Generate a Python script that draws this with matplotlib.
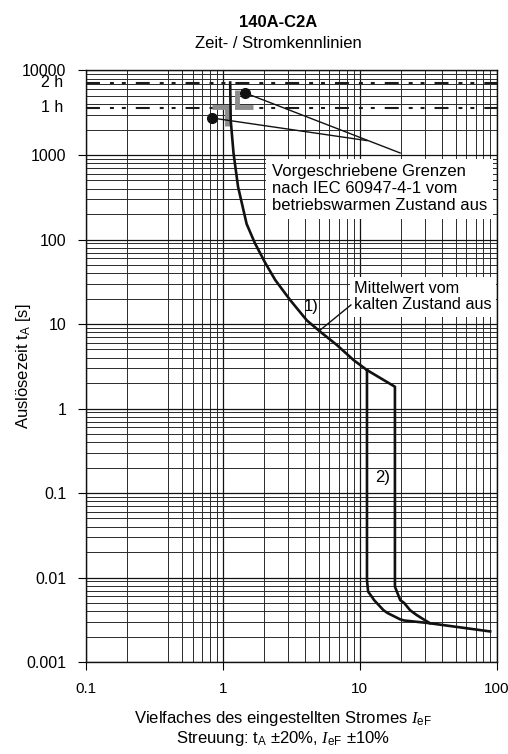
import matplotlib
matplotlib.use('Agg')
import matplotlib.pyplot as plt
from matplotlib.ticker import FixedLocator, NullFormatter

plt.rcParams['font.family'] = ['Liberation Sans', 'DejaVu Sans']
plt.rcParams['font.size'] = 12
plt.rcParams['mathtext.fontset'] = 'custom'
plt.rcParams['mathtext.rm'] = 'Liberation Sans'
plt.rcParams['mathtext.it'] = 'Liberation Serif:italic'

# 1) Mittelwert vom kalten Zustand aus (Vielfaches I_eF, Zeit in s)
cold_x = [1.13, 1.14, 1.195, 1.29, 1.49, 1.71, 2.04, 2.41, 3.10, 4.11, 5.14, 6.80, 8.99, 11.28]
cold_t = [7200, 2590, 1056, 421, 153, 91, 52.7, 33.2, 19.2, 11.0, 8.11, 5.64, 3.75, 2.85]

# 2) Kurzschlussausloesung, untere und obere Grenze
low_x = [11.28, 11.28, 11.5, 12.26, 12.72, 14.9, 15.94, 19.7, 21.07, 31.2, 89.5]
low_t = [2.85, 0.0093, 0.0068, 0.0059, 0.0054, 0.0041, 0.0038, 0.0032, 0.0031, 0.0029, 0.0023]
high_x = [11.28, 18.05, 18.05, 18.05, 19.73, 21.07, 23.3, 26.0, 29.2, 32.5]
high_t = [2.85, 1.81, 0.0093, 0.0078, 0.0054, 0.0050, 0.0041, 0.0036, 0.0032, 0.00288]

# IEC-Grenzpunkte (betriebswarm) und graue Toleranzwinkel
iec_x = [1.455, 0.835]
iec_t = [5420, 2740]
leader_end = [(19.7, 1057), (11.3, 1480)]
upper_l_x = [1.26, 1.26, 1.67]
upper_l_t = [5900, 3700, 3700]
lower_l_x = [0.835, 1.07, 1.07]
lower_l_t = [3650, 3650, 2230]

hours_t = [3600, 7200]
hours_lbl = ['1 h', '2 h']

yticks = [0.001, 0.01, 0.1, 1, 10, 100, 1000, 10000]
ylabels = ['0.001', '0.01', '0.1', '1', '10', '100', '1000', '10000']
xticks = [0.1, 1, 10, 100]
xlabels = ['0.1', '1', '10', '100']

fig = plt.figure(figsize=(5.08, 7.54), dpi=100)
ax = fig.add_axes([0.1693, 0.122, 0.8085, 0.7845])
ax.set_xscale('log')
ax.set_yscale('log')
ax.set_xlim(0.1, 100)
ax.set_ylim(0.001, 10000)

# Raster (bei 0.3 fehlt die Linie im Original)
xminor = [m * 10.0 ** e for e in (-1, 0, 1) for m in range(2, 10) if not (e == -1 and m == 3)]
yminor = [m * 10.0 ** e for e in range(-3, 4) for m in range(2, 10)]
ax.xaxis.set_major_locator(FixedLocator(xticks))
ax.xaxis.set_minor_locator(FixedLocator(xminor))
ax.yaxis.set_major_locator(FixedLocator(yticks))
ax.yaxis.set_minor_locator(FixedLocator(yminor))
ax.set_xticklabels(xlabels)
ax.set_yticklabels(ylabels)
ax.xaxis.set_minor_formatter(NullFormatter())
ax.yaxis.set_minor_formatter(NullFormatter())
ax.grid(True, which='major', color='#111111', lw=0.9)
ax.grid(True, which='minor', color='#2a2a2a', lw=0.7)
ax.set_axisbelow(True)
ax.tick_params(which='major', direction='out', length=5.5, width=0.8)
ax.tick_params(which='minor', length=0)
ax.tick_params(axis='y', pad=8.5, labelsize=11.5)
ax.tick_params(axis='x', pad=9, labelsize=11)
for s in ax.spines.values():
    s.set_linewidth(1.0)
    s.set_color('#111111')

for t, lbl in zip(hours_t, hours_lbl):
    ax.text(-0.055, t, lbl, transform=ax.get_yaxis_transform(), ha='right', va='center', fontsize=11.5)
    ax.axhline(t, color='#1a1a1a', lw=1.5, dashes=(6.7, 4.8, 1.9, 3.8, 1.9, 4.8), zorder=2)

# graue Winkel
ax.plot(upper_l_x, upper_l_t, color='#8c8c8c', lw=3.5, solid_capstyle='butt', solid_joinstyle='miter', zorder=3)
ax.plot(lower_l_x, lower_l_t, color='#8c8c8c', lw=3.5, solid_capstyle='butt', solid_joinstyle='miter', zorder=3)

# Hinweislinien und Punkte
for (x0, t0), (x1, t1) in zip(zip(iec_x, iec_t), leader_end):
    ax.plot([x0, x1], [t0, t1], color='#111111', lw=1.0, zorder=4)
ax.plot(iec_x, iec_t, 'o', color='#111111', ms=7, zorder=5)

ax.plot(cold_x, cold_t, color='#111111', lw=1.9, zorder=4)
ax.plot(low_x, low_t, color='#111111', lw=1.9, zorder=4)
ax.plot(high_x, high_t, color='#111111', lw=1.9, zorder=4)

ax.text(2.28, 773, 'Vorgeschriebene Grenzen\nnach IEC 60947-4-1 vom\nbetriebswarmen Zustand aus',
        ha='left', va='top', fontsize=12, linespacing=1.15, zorder=3,
        bbox=dict(facecolor='white', edgecolor='none', pad=4))
ax.text(9.1, 32.2, 'Mittelwert vom\nkalten Zustand aus', ha='left', va='top', fontsize=11.7,
        linespacing=1.1, zorder=3, bbox=dict(facecolor='white', edgecolor='none', pad=3))
ax.plot([8.61, 5.14], [16.8, 8.49], color='#111111', lw=1.0, zorder=4)
ax.text(4.45, 16.3, '1)', ha='center', va='center', fontsize=12, zorder=4)
ax.text(14.6, 0.151, '2)', ha='center', va='center', fontsize=12, zorder=4)

ax.set_ylabel(r'Auslösezeit t$_{\mathrm{A}}$ [s]', fontsize=12)
ax.yaxis.set_label_coords(-0.13, 0.5)

fig.text(278 / 508, 1 - 22.5 / 754, '140A-C2A', ha='center', va='center', fontsize=12, fontweight='bold')
fig.text(278 / 508, 1 - 43 / 754, 'Zeit- / Stromkennlinien', ha='center', va='center', fontsize=12)
fig.text(283 / 508, 1 - 718 / 754, r'Vielfaches des eingestellten Stromes $\mathit{I}_{\mathrm{eF}}$',
         ha='center', va='center', fontsize=12)
fig.text(283 / 508, 1 - 739 / 754, r'Streuung: t$_{\mathrm{A}}$ ±20%, $\mathit{I}_{\mathrm{eF}}$ ±10%',
         ha='center', va='center', fontsize=12)

fig.savefig('out.png', dpi=100)
